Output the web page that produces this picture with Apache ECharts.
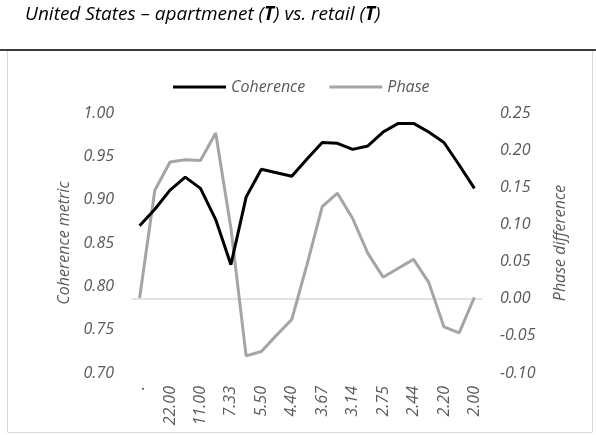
<!DOCTYPE html>
<html>
<head>
<meta charset="utf-8">
<script src="https://cdn.jsdelivr.net/npm/echarts@6/dist/echarts.min.js"></script>
<style>
html,body{margin:0;padding:0;background:#fff;}
#c{width:596px;height:435px;}
</style>
</head>
<body>
<div id="c"></div>
<script>
const categories = [".", "44.00", "22.00", "14.67", "11.00", "8.80", "7.33", "6.29", "5.50", "4.89", "4.40", "4.00", "3.67", "3.38", "3.14", "2.93", "2.75", "2.59", "2.44", "2.32", "2.20", "2.10", "2.00"];
const coherence = [0.870, 0.889, 0.911, 0.926, 0.913, 0.877, 0.825, 0.903, 0.935, 0.931, 0.927, 0.947, 0.966, 0.965, 0.958, 0.962, 0.978, 0.988, 0.988, 0.978, 0.966, 0.940, 0.913];
const phase = [0.001, 0.146, 0.184, 0.187, 0.186, 0.223, 0.095, -0.077, -0.071, -0.049, -0.028, 0.046, 0.124, 0.142, 0.108, 0.061, 0.029, 0.041, 0.053, 0.022, -0.038, -0.046, 0.002];
const seriesNames = ["Coherence", "Phase"];
const leftAxisName = "Coherence metric";
const rightAxisName = "Phase difference";

const FONT = "Open Sans";
const LBL = "#595959";
const chart = echarts.init(document.getElementById('c'), null, {renderer: 'canvas'});
chart.setOption({
  animation: false,
  title: {
    text: "United States – apartmenet ({b|T}) vs. retail ({b|T})",
    left: 25, top: 5, padding: 0,
    textStyle: {
      fontFamily: FONT, fontStyle: 'italic', fontWeight: 'normal', fontSize: 19, color: '#000',
      rich: { b: { fontFamily: FONT, fontStyle: 'italic', fontWeight: 'bold', fontSize: 19, color: '#000' } }
    }
  },
  graphic: [
    { type: 'rect', shape: {x: 7.5, y: 50.5, width: 585, height: 382}, style: {fill: 'none', stroke: '#D9D9D9', lineWidth: 1} },
    { type: 'line', shape: {x1: 0, y1: 50, x2: 596, y2: 50}, style: {stroke: '#000', lineWidth: 1.5} }
  ],
  legend: {
    left: 173, top: 79, padding: 0,
    icon: 'rect',
    itemWidth: 53, itemHeight: 3, itemGap: 24,
    textStyle: {fontFamily: FONT, fontStyle: 'italic', fontSize: 16, color: LBL},
    data: seriesNames
  },
  grid: {left: 132, right: 114, top: 113, bottom: 62},
  xAxis: {
    type: 'category', data: categories, boundaryGap: true,
    axisLine: {lineStyle: {color: '#D9D9D9', width: 1.5}},
    axisTick: {show: false},
    axisLabel: {interval: 1, rotate: 90, margin: 13, fontFamily: FONT, fontStyle: 'italic', fontSize: 16, color: LBL}
  },
  yAxis: [
    {
      type: 'value', min: 0.70, max: 1.00, interval: 0.05,
      name: leftAxisName, nameLocation: 'middle', nameGap: 60, nameRotate: 90,
      nameTextStyle: {fontFamily: FONT, fontStyle: 'italic', fontSize: 16, color: LBL},
      axisLine: {show: false}, axisTick: {show: false}, splitLine: {show: false},
      axisLabel: {margin: 18, fontFamily: FONT, fontStyle: 'italic', fontSize: 16, color: LBL, formatter: v => v.toFixed(2)}
    },
    {
      type: 'value', min: -0.10, max: 0.25, interval: 0.05, position: 'right',
      name: rightAxisName, nameLocation: 'middle', nameGap: 70, nameRotate: 90,
      nameTextStyle: {fontFamily: FONT, fontStyle: 'italic', fontSize: 16, color: LBL},
      axisLine: {show: false}, axisTick: {show: false}, splitLine: {show: false},
      axisLabel: {margin: 18, fontFamily: FONT, fontStyle: 'italic', fontSize: 16, color: LBL, formatter: v => v.toFixed(2)}
    }
  ],
  series: [
    { name: seriesNames[0], type: 'line', yAxisIndex: 0, data: coherence, symbol: 'none',
      lineStyle: {color: '#000000', width: 3}, itemStyle: {color: '#000000'}, z: 3 },
    { name: seriesNames[1], type: 'line', yAxisIndex: 1, data: phase, symbol: 'none',
      lineStyle: {color: '#A5A5A5', width: 3}, itemStyle: {color: '#A5A5A5'}, z: 2 }
  ]
});
</script>
</body>
</html>
